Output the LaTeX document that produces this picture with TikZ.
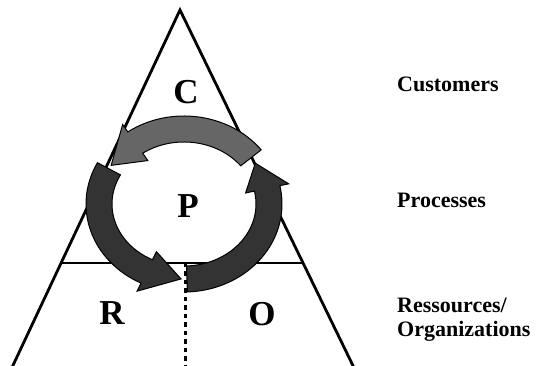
\documentclass[tikz,border=0pt]{standalone}
\usepackage{fontspec}
\setmainfont{Liberation Serif}
\usetikzlibrary{calc}

\newcommand{\ringarrow}[4]{%
  \filldraw[ringarr, fill=#4] (#1:98pt and 88pt)
    arc[start angle=#1, end angle=#2, x radius=98pt, y radius=88pt]
    -- (#2:107pt and 97pt) -- (#3:85pt and 75pt) -- (#2:63pt and 53pt) -- (#2:72pt and 62pt)
    arc[start angle=#2, end angle=#1, x radius=72pt, y radius=62pt] -- cycle;}

\begin{document}
\begin{tikzpicture}[
  x=1pt, y=1pt,
  edge/.style={line width=2.8pt, line join=miter},
  cut/.style={line width=2.4pt},
  ringarr/.style={draw=black, line width=1pt, line join=miter},
  big/.style={font=\fontsize{35}{35}\selectfont\bfseries, inner sep=0pt, anchor=base},
  lbl/.style={font=\fontsize{22}{22}\selectfont\bfseries, inner sep=0pt, anchor=base west}
]
\useasboundingbox (0,0) rectangle (536,366);
\clip (0,0) rectangle (536,366);

% triangle
\coordinate (apex) at (180,356);
\coordinate (bl) at (8,-10);
\coordinate (br) at (358,-10);
\coordinate (ml) at (61.5,103);
\coordinate (mr) at (303,103);
\coordinate (dtop) at (185,103);
\coordinate (dbot) at (185,0);
\draw[edge] (bl) -- (apex) -- (br);
\draw[cut] (ml) -- (mr);
\draw[line width=3pt, dash pattern=on 4.5pt off 4pt] (dtop) -- (dbot);

% process ring
\begin{scope}[shift={(184,162)}]
  \ringarrow{272}{372}{393}{black!80}
  \ringarrow{38}{125}{149}{black!60}
  \ringarrow{152}{244}{268}{black!80}
\end{scope}

\node[big] (c) at (186,262) {C};
\node[big] (p) at (188,148) {P};
\node[big] (r) at (112,41) {R};
\node[big] (o) at (262,40) {O};

\node[lbl] (cust) at (397,274) {Customers};
\node[lbl] (proc) at (397,158) {Processes};
\node[lbl] (ress) at (397,53) {Ressources/};
\node[lbl] (orga) at (397,29) {Organizations};
\end{tikzpicture}
\end{document}
